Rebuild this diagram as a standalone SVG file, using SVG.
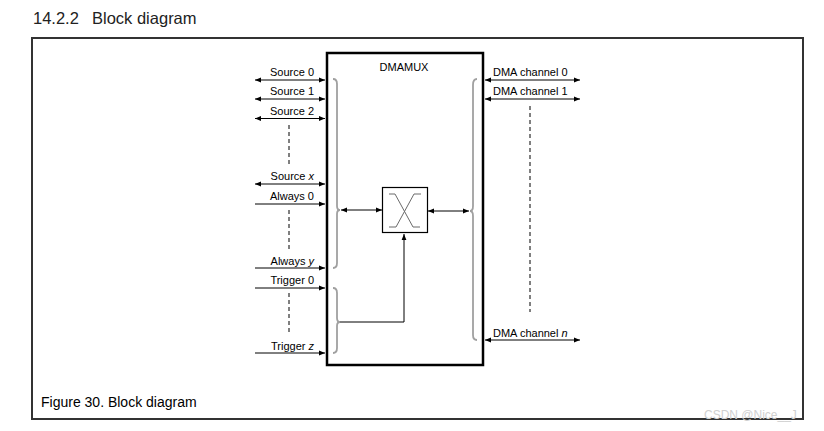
<svg xmlns="http://www.w3.org/2000/svg" width="824" height="431" viewBox="0 0 824 431">
<defs>
<style>
.t{font-family:"Liberation Sans",Arial,sans-serif;font-size:11px;fill:#000}
.lbl{text-anchor:end}
.ln{stroke:#000;stroke-width:1;fill:none}
.dash{stroke:#000;stroke-width:1;stroke-dasharray:4,3;fill:none}
.brace{stroke:#a0a0a0;stroke-width:1.8;fill:none}
.xs{stroke:#6a6a6a;stroke-width:1;fill:none}
</style>
<marker id="ah" viewBox="0 0 6 6" refX="6" refY="3" markerWidth="6" markerHeight="6" markerUnits="userSpaceOnUse" orient="auto-start-reverse">
<path d="M0,0.6 L6,3 L0,5.4 z" fill="#000"/>
</marker>
</defs>
<rect width="824" height="431" fill="#fff"/>
<g id="title">
<text x="33" y="24" font-family="Liberation Sans,Arial,sans-serif" font-size="16.5" fill="#222">14.2.2</text>
<text x="92" y="24" font-family="Liberation Sans,Arial,sans-serif" font-size="16.5" fill="#222">Block diagram</text>
</g>
<g id="frame">
<path d="M32,420 L32,38 L803,38 L803,419 L32,419" fill="none" stroke="#333" stroke-width="2"/>
</g>
<g id="caption">
<text x="41" y="407" font-family="Liberation Sans,Arial,sans-serif" font-size="14" fill="#000">Figure 30.  Block diagram</text>
</g>
<g id="dmamux">
<rect x="327" y="53" width="156" height="312" fill="none" stroke="#000" stroke-width="2.5"/>
<text class="t" x="404" y="71" text-anchor="middle">DMAMUX</text>
</g>
<g id="crossbar">
<rect x="382.5" y="187.5" width="45" height="45" fill="#fff" stroke="#000" stroke-width="1.2"/>
<path class="xs" d="M389,194 L395,194 L413,227 L420,227 M421,194 L414,194 L396,227 L389,227"/>
</g>
<g id="brace-sources"><path class="brace" d="M333,79 Q337,79 337,84 L337,206 Q337,210 340,210 Q337,210 337,214 L337,263 Q337,268 333,268"/></g>
<g id="brace-triggers"><path class="brace" d="M333,288 Q337,288 337,293 L337,318 Q337,322 340,322 Q337,322 337,326 L337,348 Q337,353 333,353"/></g>
<g id="brace-channels"><path class="brace" d="M477,79 Q473,79 473,85 L473,206 Q473,211 470,211 Q473,211 473,216 L473,335 Q473,340 477,340"/></g>
<g id="source0"><text class="t lbl" x="314" y="76">Source 0</text></g>
<g id="source1"><text class="t lbl" x="314" y="95">Source 1</text></g>
<g id="source2"><text class="t lbl" x="314" y="115">Source 2</text></g>
<g id="sourcex"><text class="t lbl" x="314" y="180">Source <tspan font-style="italic">x</tspan></text></g>
<g id="always0"><text class="t lbl" x="314" y="200">Always 0</text></g>
<g id="alwaysy"><text class="t lbl" x="314" y="265">Always <tspan font-style="italic">y</tspan></text></g>
<g id="trigger0"><text class="t lbl" x="314" y="284">Trigger 0</text></g>
<g id="triggerz"><text class="t lbl" x="314" y="350">Trigger <tspan font-style="italic">z</tspan></text></g>
<g id="dmach0"><text class="t" x="493" y="76">DMA channel 0</text></g>
<g id="dmach1"><text class="t" x="493" y="95">DMA channel 1</text></g>
<g id="dmachn"><text class="t" x="493" y="337">DMA channel <tspan font-style="italic">n</tspan></text></g>
<g id="connectors">
<line class="ln" x1="255" y1="80" x2="325" y2="80" marker-start="url(#ah)" marker-end="url(#ah)"/>
<line class="ln" x1="255" y1="99" x2="325" y2="99" marker-start="url(#ah)" marker-end="url(#ah)"/>
<line class="ln" x1="255" y1="118.5" x2="325" y2="118.5" marker-start="url(#ah)" marker-end="url(#ah)"/>
<line class="dash" x1="289" y1="125" x2="289" y2="166"/>
<line class="ln" x1="255" y1="184" x2="325" y2="184" marker-start="url(#ah)" marker-end="url(#ah)"/>
<line class="ln" x1="255" y1="204" x2="325" y2="204" marker-end="url(#ah)"/>
<line class="dash" x1="289" y1="210" x2="289" y2="251"/>
<line class="ln" x1="255" y1="268" x2="325" y2="268" marker-end="url(#ah)"/>
<line class="ln" x1="255" y1="288" x2="325" y2="288" marker-end="url(#ah)"/>
<line class="dash" x1="289" y1="293" x2="289" y2="334"/>
<line class="ln" x1="255" y1="353" x2="325" y2="353" marker-end="url(#ah)"/>
<line class="ln" x1="341" y1="210" x2="382" y2="210" marker-start="url(#ah)" marker-end="url(#ah)"/>
<line class="ln" x1="428" y1="211" x2="469" y2="211" marker-start="url(#ah)" marker-end="url(#ah)"/>
<path class="ln" d="M340,322 L404,322 L404,234" marker-end="url(#ah)"/>
<line class="ln" x1="485" y1="80" x2="580" y2="80" marker-start="url(#ah)" marker-end="url(#ah)"/>
<line class="ln" x1="485" y1="99" x2="580" y2="99" marker-start="url(#ah)" marker-end="url(#ah)"/>
<line class="dash" x1="530" y1="106" x2="530" y2="312"/>
<line class="ln" x1="485" y1="340" x2="580" y2="340" marker-start="url(#ah)" marker-end="url(#ah)"/>
</g>
<g id="watermark"><text x="704" y="419" font-family="Liberation Sans,Arial,sans-serif" font-size="12" fill="#d0d0d0">CSDN @Nice__J</text></g>
</svg>
